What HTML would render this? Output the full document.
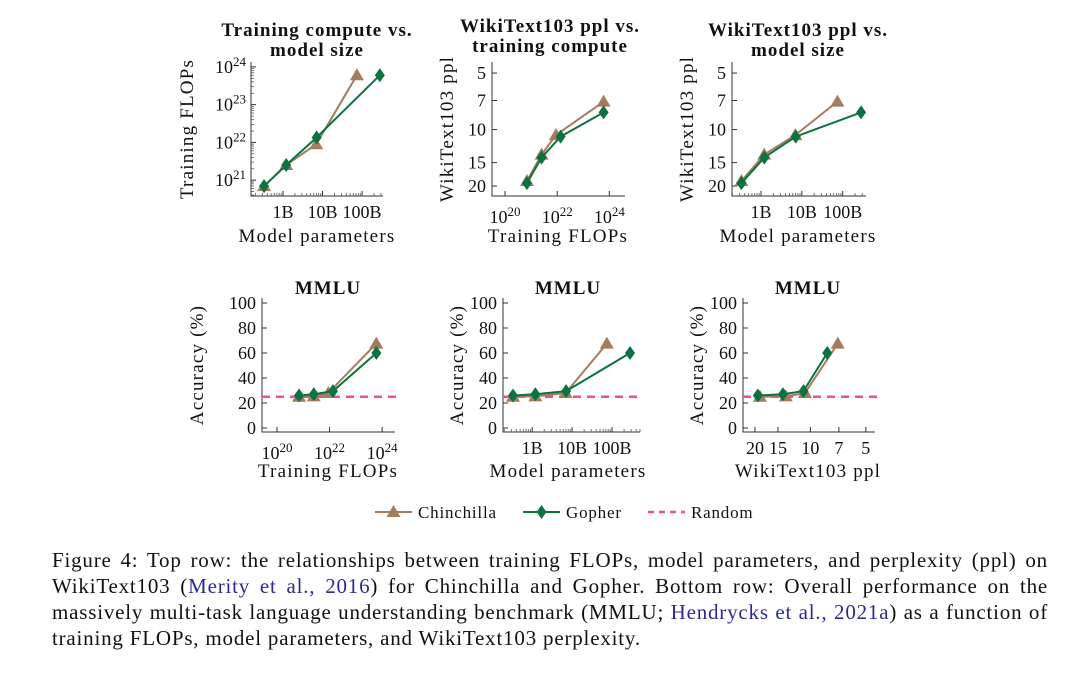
<!DOCTYPE html>
<html><head><meta charset="utf-8">
<style>
html,body{margin:0;padding:0;background:#fff;}
#wrap{position:relative;width:1080px;height:674px;overflow:hidden;}
svg text{font-family:"Liberation Serif",serif;fill:#111;}
#caption{position:absolute;left:52px;top:547px;width:996px;font-family:"Liberation Serif",serif;font-size:21px;line-height:26px;color:#111;letter-spacing:0.8px;}
#caption .ln{text-align:justify;text-align-last:justify;white-space:nowrap;}
#caption .ln.last{text-align-last:left;}
#caption a{color:#2b2b98;text-decoration:none;}
</style></head><body>
<div id="wrap">
<svg id="chart" width="1080" height="674"></svg>
<div id="caption">
<div class="ln">Figure 4: Top row: the relationships between training FLOPs, model parameters, and perplexity (ppl) on</div>
<div class="ln">WikiText103 (<a href="#">Merity et al., 2016</a>) for Chinchilla and Gopher. Bottom row: Overall performance on the</div>
<div class="ln">massively multi-task language understanding benchmark (MMLU; <a href="#">Hendrycks et al., 2021a</a>) as a function of</div>
<div class="ln last">training FLOPs, model parameters, and WikiText103 perplexity.</div>
</div>
</div>
<script>
// data (log10 of params / flops; ppl raw; MMLU %)
const chinParams = [8.52, 9.08, 9.84, 10.87];
const gophParams = [8.52, 9.08, 9.85, 11.45];
const chinFlops = [20.84, 21.40, 21.95, 23.78];
const gophFlops = [20.84, 21.40, 22.13, 23.78];
const chinPpl = [18.8, 13.6, 10.7, 7.1];
const gophPpl = [19.3, 14.1, 10.9, 8.1];
const chinMMLU = [25.0, 25.3, 28.0, 67.5];
const gophMMLU = [26.0, 27.0, 29.5, 60.0];
const randomMMLU = [25];
const paramTicks = [9, 10, 11];
const paramTickLabels = ['1B', '10B', '100B'];
const flopTicks = [20, 22, 24];
const flopTicksY = [21, 22, 23, 24];
const pplTicks = [5, 7, 10, 15, 20];
const accTicks = [0, 20, 40, 60, 80, 100];

const NS = 'http://www.w3.org/2000/svg';
const svg = document.getElementById('chart');
const CH = '#a67c5e', GO = '#0a7340', RA = '#f0508c';
function mk(tag, attrs, parent) {
  const e = document.createElementNS(NS, tag);
  for (const k in attrs) e.setAttribute(k, attrs[k]);
  (parent || svg).appendChild(e);
  return e;
}
function lin(d0, d1, r0, r1) { return v => r0 + (v - d0) / (d1 - d0) * (r1 - r0); }
function pow10Label(g, x, y, exp, anchor) {
  const t = mk('text', {x: x, y: y, 'font-size': 18, 'text-anchor': anchor}, g);
  
  
  t.appendChild(document.createTextNode('10'));
  const s = mk('tspan', {'font-size': 13, dy: -7}, t);
  s.textContent = exp;
}
function marker(g, type, x, y, color) {
  let m;
  if (type === 'tri') m = mk('path', {d: `M${x},${y-7} L${x+7},${y+5} L${x-7},${y+5} Z`, fill: color}, g);
  else m = mk('path', {d: `M${x},${y-7} L${x+5},${y} L${x},${y+7} L${x-5},${y} Z`, fill: color}, g);
  
  
}
function series(g, xs, ys, X, Y, color, type, name) {
  const pts = xs.map((v, i) => X(v) + ',' + Y(ys[i])).join(' ');
  const l = mk('polyline', {points: pts, fill: 'none', stroke: color, 'stroke-width': 2}, g);
  
  
  xs.forEach((v, i) => marker(g, type, X(v), Y(ys[i]), color));
}
function minorLog(g, lo, hi, f, horiz, base) {
  for (let d = Math.floor(lo); d < hi; d++) for (let k = 2; k <= 9; k++) {
    const v = d + Math.log10(k);
    if (v <= lo || v >= hi) continue;
    const p = f(v);
    if (horiz) mk('line', {x1: p, x2: p, y1: base, y2: base - 3, stroke: '#555', 'stroke-width': 0.8}, g);
    else mk('line', {x1: base, x2: base + 3, y1: p, y2: p, stroke: '#555', 'stroke-width': 0.8}, g);
  }
}
function panel(cfg) {
  const g = mk('g', {});
  
  
  const {L, R, T, B} = cfg;
  cfg.title.forEach((tl, i) => {
    const t = mk('text', {x: cfg.tx, y: cfg.ty + i * 20, 'font-size': 19, 'font-weight': 'bold', 'letter-spacing': 1.0, 'text-anchor': 'middle'}, g);
    
    
    t.textContent = tl;
  });
  const ax = mk('path', {d: `M${L},${T} L${L},${B} L${R},${B}`, fill: 'none', stroke: '#333', 'stroke-width': 1}, g);
  
  
  cfg.xt.forEach((v, i) => {
    const x = cfg.X(v);
    mk('line', {x1: x, x2: x, y1: B, y2: B - 5, stroke: '#333'}, g);
    if (cfg.xpow) pow10Label(g, x, B + 27, v, 'middle');
    else {
      const t = mk('text', {x: x, y: B + 22, 'font-size': 18, 'text-anchor': 'middle'}, g);
      
      
      t.textContent = cfg.xl[i];
    }
  });
  if (cfg.xminor) minorLog(g, cfg.xminor[0], cfg.xminor[1], cfg.X, true, B);
  cfg.yt.forEach((v, i) => {
    const y = cfg.Y(v);
    mk('line', {x1: L, x2: L + 5, y1: y, y2: y, stroke: '#333'}, g);
    if (cfg.ypow) pow10Label(g, L - 5, y + 6, v, 'end');
    else {
      const t = mk('text', {x: L - 6, y: y + 6, 'font-size': 18, 'text-anchor': 'end'}, g);
      
      
      t.textContent = v;
    }
  });
  if (cfg.yminor) minorLog(g, cfg.yminor[0], cfg.yminor[1], cfg.Y, false, L);
  const xl = mk('text', {x: cfg.xlx, y: cfg.xly, 'font-size': 19, 'letter-spacing': 1.2, 'text-anchor': 'middle'}, g);
  
  
  xl.textContent = cfg.xlabel;
  const yl = mk('text', {x: 0, y: 0, 'font-size': 19, 'letter-spacing': 1.2, 'text-anchor': 'middle', transform: `translate(${cfg.ylx},${(T + B) / 2}) rotate(-90)`}, g);
  
  
  yl.textContent = cfg.ylabel;
  if (cfg.random) {
    const y = cfg.Y(randomMMLU[0]);
    const r = mk('line', {x1: L, x2: R + 2, y1: y, y2: y, stroke: RA, 'stroke-width': 2.5, 'stroke-dasharray': '8,6'}, g);
    
    
  }
  series(g, cfg.cx, cfg.cy, cfg.X, cfg.Y, CH, 'tri', 'chinchilla');
  series(g, cfg.gx, cfg.gy, cfg.X, cfg.Y, GO, 'dia', 'gopher');
}
const lg = v => Math.log10(v);
panel({name: 'panel-flops-vs-params', L: 251, R: 383, T: 62, B: 196, tx: 317, ty: 36,
  title: ['Training compute vs.', 'model size'],
  X: lin(8.19, 11.53, 251, 383), Y: lin(20.58, 24.05, 196, 65),
  xt: paramTicks, xl: paramTickLabels, yt: flopTicksY, ypow: true,
  xminor: [8.19, 11.53], yminor: [20.58, 24.05],
  xlabel: 'Model parameters', xlx: 317, xly: 242, ylabel: 'Training FLOPs', ylx: 193,
  cx: chinParams, cy: chinFlops, gx: gophParams, gy: gophFlops});
const Yppl = v => lin(0.656, 1.354, 65, 196)(lg(v));
panel({name: 'panel-ppl-vs-flops', L: 492, R: 625, T: 62, B: 196, tx: 550, ty: 32,
  title: ['WikiText103 ppl vs.', 'training compute'],
  X: lin(19.5, 24.6, 492, 625), Y: Yppl, xt: flopTicks, xpow: true, yt: pplTicks,
  xlabel: 'Training FLOPs', xlx: 558, xly: 242, ylabel: 'WikiText103 ppl', ylx: 453,
  cx: chinFlops, cy: chinPpl, gx: gophFlops, gy: gophPpl});
panel({name: 'panel-ppl-vs-params', L: 732, R: 866, T: 62, B: 196, tx: 798, ty: 36,
  title: ['WikiText103 ppl vs.', 'model size'],
  X: lin(8.29, 11.57, 732, 866), Y: Yppl, xt: paramTicks, xl: paramTickLabels, yt: pplTicks,
  xminor: [8.29, 11.57],
  xlabel: 'Model parameters', xlx: 798, xly: 242, ylabel: 'WikiText103 ppl', ylx: 693,
  cx: chinParams, cy: chinPpl, gx: gophParams, gy: gophPpl});
const Yacc = lin(0, 100, 428, 303);
panel({name: 'panel-mmlu-vs-flops', L: 262, R: 395, T: 298, B: 432, tx: 328, ty: 294,
  title: ['MMLU'], random: true,
  X: lin(19.43, 24.49, 262, 395), Y: Yacc, xt: flopTicks, xpow: true, yt: accTicks,
  xlabel: 'Training FLOPs', xlx: 328, xly: 477, ylabel: 'Accuracy (%)', ylx: 203,
  cx: chinFlops, cy: chinMMLU, gx: gophFlops, gy: gophMMLU});
panel({name: 'panel-mmlu-vs-params', L: 503, R: 640, T: 298, B: 432, tx: 568, ty: 294,
  title: ['MMLU'], random: true,
  X: lin(8.27, 11.7, 503, 640), Y: Yacc, xt: paramTicks, xl: paramTickLabels, yt: accTicks,
  xminor: [8.27, 11.7],
  xlabel: 'Model parameters', xlx: 568, xly: 477, ylabel: 'Accuracy (%)', ylx: 463,
  cx: chinParams, cy: chinMMLU, gx: gophParams, gy: gophMMLU});
panel({name: 'panel-mmlu-vs-ppl', L: 743, R: 875, T: 298, B: 432, tx: 808, ty: 294,
  title: ['MMLU'], random: true,
  X: v => lin(1.366, 0.649, 743, 875)(lg(v)), Y: Yacc, xt: [20, 15, 10, 7, 5], xl: ['20', '15', '10', '7', '5'], yt: accTicks,
  xlabel: 'WikiText103 ppl', xlx: 808, xly: 477, ylabel: 'Accuracy (%)', ylx: 703,
  cx: chinPpl, cy: chinMMLU, gx: gophPpl, gy: gophMMLU});
const lgG = mk('g', {});


function legendEntry(x, color, type, label, name, dashed) {
  const e = mk('g', {}, lgG);
  
  
  mk('line', {x1: x, x2: x + 37, y1: 512, y2: 512, stroke: color, 'stroke-width': dashed ? 2.5 : 2, 'stroke-dasharray': dashed ? '6,5' : 'none'}, e);
  if (type) marker(e, type, x + 18.5, 512, color);
  const t = mk('text', {x: x + 43, y: 518, 'font-size': 17, 'letter-spacing': 0.8}, e);
  t.textContent = label;
}
legendEntry(375, CH, 'tri', 'Chinchilla', 'legend-chinchilla', false);
legendEntry(523, GO, 'dia', 'Gopher', 'legend-gopher', false);
legendEntry(648, RA, null, 'Random', 'legend-random', true);
</script>
</body></html>
